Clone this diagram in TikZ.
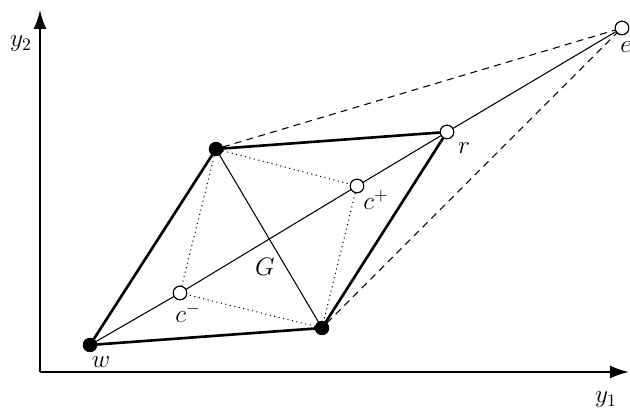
\documentclass[tikz,border=0pt]{standalone}
\usepackage{amsmath}
\usepackage{tikz}
\usetikzlibrary{arrows.meta}

\begin{document}
\begin{tikzpicture}[
    dot/.style={circle, fill=black, draw=black, inner sep=0pt, minimum size=0.27cm},
    hollow/.style={circle, fill=white, draw=black, line width=0.6pt, inner sep=0pt, minimum size=0.27cm},
    edge/.style={line width=1.5pt},
    thinline/.style={line width=0.6pt},
    lbl/.style={font=\Large}]
    \useasboundingbox (0, 0) rectangle (12.6, 8.24);

    % axes
    \coordinate (o) at (0.8, 0.8);
    \coordinate (ytip) at (0.8, 8.04);
    \coordinate (xtip) at (12.58, 0.8);
    \draw[line width=1.2pt, -{Latex[length=0.38cm, width=0.26cm]}] (o) -- (ytip);
    \draw[line width=1.2pt, -{Latex[length=0.38cm, width=0.26cm]}] (o) -- (xtip);
    \node[lbl] (ylab) at (0.42, 7.36) {$y_2$};
    \node[lbl] (xlab) at (12.12, 0.24) {$y_1$};

    % points
    \node[dot] (w) at (1.8, 1.34) {};
    \node[dot] (a) at (4.32, 5.26) {};
    \node[dot] (b) at (6.44, 1.68) {};
    \node[hollow] (r) at (8.94, 5.6) {};
    \node[hollow] (e) at (12.44, 7.68) {};
    \node[hollow] (cp) at (7.14, 4.52) {};
    \node[hollow] (cm) at (3.6, 2.38) {};

    % dashed lines to e
    \draw[thinline, dash pattern=on 4pt off 3pt] (a) -- (e);
    \draw[thinline, dash pattern=on 4pt off 3pt] (b) -- (e);

    % dotted parallelogram
    \draw[thinline, dotted] (a) -- (cp) -- (b) -- (cm) -- (a);

    % diagonals
    \draw[thinline] (w) -- (cm) -- (cp) -- (r) -- (e);
    \draw[thinline] (a) -- (b);

    % the parallelogram
    \draw[edge] (w) -- (a) -- (r) -- (b) -- (w);

    % redraw points on top
    \node[dot] at (w) {};
    \node[dot] at (a) {};
    \node[dot] at (b) {};
    \node[hollow] at (r) {};
    \node[hollow] at (e) {};
    \node[hollow] at (cp) {};
    \node[hollow] at (cm) {};

    % labels
    \node[lbl] (wlab) at (2.02, 1.0) {$w$};
    \node[lbl] (rlab) at (9.28, 5.28) {$r$};
    \node[lbl] (elab) at (12.52, 7.3) {$e$};
    \node[lbl] (cplab) at (7.52, 4.24) {$c^{+}$};
    \node[lbl] (cmlab) at (3.76, 1.98) {$c^{-}$};
    \node[lbl] (glab) at (5.3, 2.9) {$G$};
\end{tikzpicture}
\end{document}
